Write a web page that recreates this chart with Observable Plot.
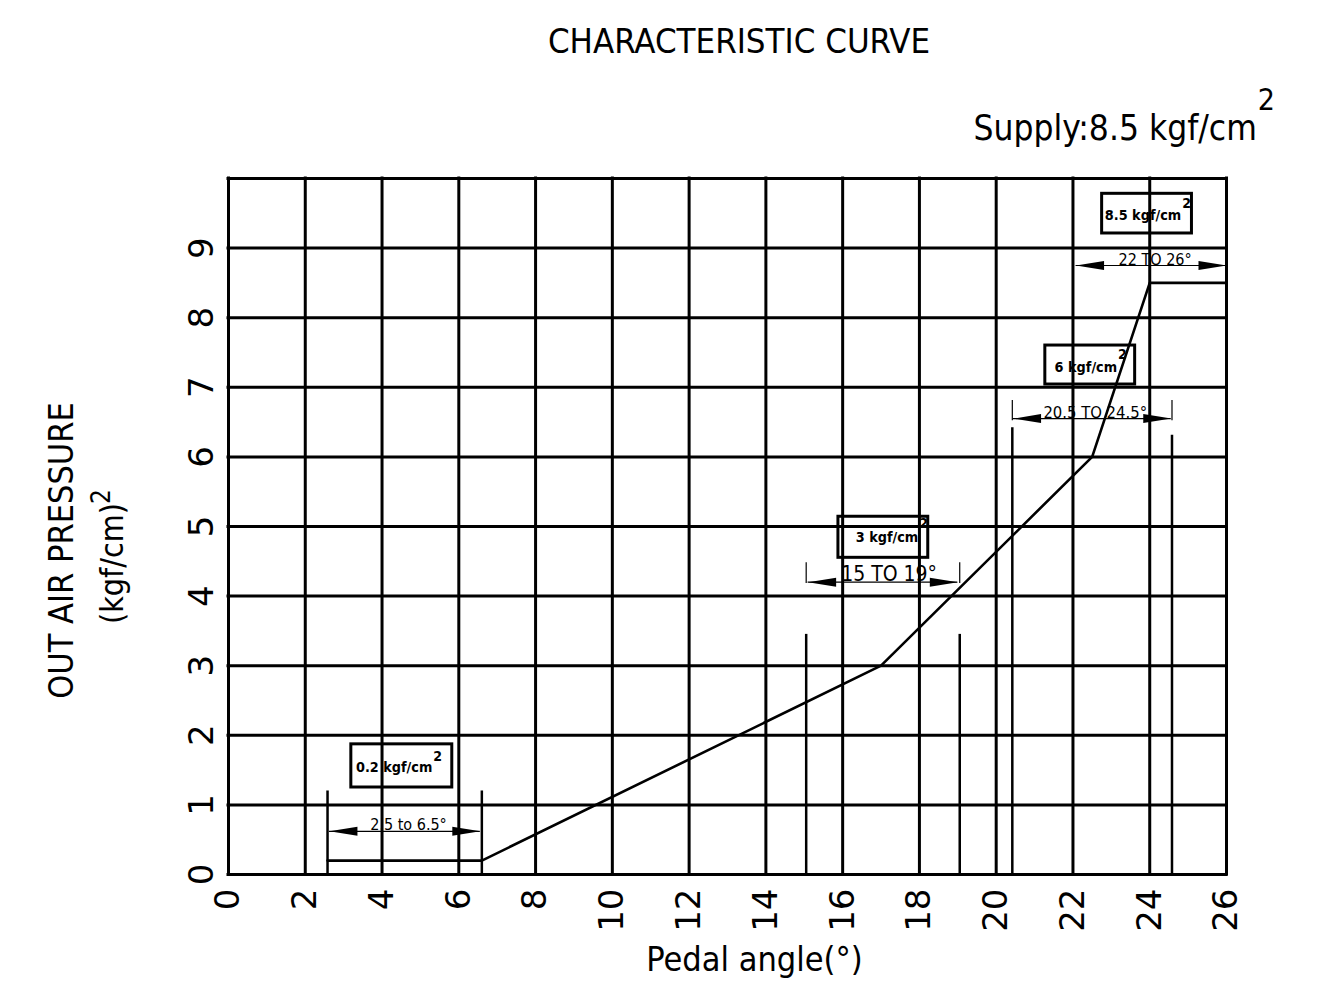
<!DOCTYPE html>
<html><head><meta charset="utf-8">
<script src="https://cdn.jsdelivr.net/npm/d3@7"></script>
<script src="https://cdn.jsdelivr.net/npm/@observablehq/plot@0.6"></script>
<style>
body{margin:0;background:#fff;width:1335px;height:988px;overflow:hidden;}
#header{position:relative;width:1335px;height:160px;font-family:"Liberation Sans Narrow","DejaVu Sans Condensed","Arial Narrow",sans-serif;color:#000;}
#title{position:absolute;left:339px;width:800px;top:23px;text-align:center;font-size:34.5px;line-height:36px;white-space:nowrap;}
#supply{position:absolute;right:60px;top:109px;font-size:35px;line-height:38px;white-space:nowrap;}
#supply span{font-size:30px;position:relative;top:-30px;margin-left:1px;}
#chart svg{display:block;}
</style></head>
<body>
<div id="header"><div id="title"></div><div id="supply"></div></div>
<div id="chart"></div>
<script>
// ---- text ----
const titleText = "CHARACTERISTIC CURVE";
const supplyText = "Supply:8.5 kgf/cm";
const supplySup = "2";
const xLabelText = "Pedal angle(°)";
const yLabelText = "OUT AIR PRESSURE";
const yUnitText = "(kgf/cm)";
const yUnitSup = "2";

// ---- ticks / grid ----
const xTicks = [0, 2, 4, 6, 8, 10, 12, 14, 16, 18, 20, 22, 24, 26];
const yTicks = [0, 1, 2, 3, 4, 5, 6, 7, 8, 9];
const yGrid = [0, 1, 2, 3, 4, 5, 6, 7, 8, 9, 10];

// ---- characteristic curve ----
const curveAngle = [2.58, 6.6, 17, 22.5, 24, 26];
const curvePressure = [0.2, 0.2, 3, 6, 8.5, 8.5];

// ---- dimension (tolerance) brackets ----
const dimText = ["2.5 to 6.5°", "15 TO 19°", "20.5 TO 24.5°", "22 TO 26°"];
const dimFrom = [2.63, 15.1, 20.44, 22.08];
const dimTo = [6.56, 19.0, 24.56, 26];
const dimLevel = [0.62, 4.2, 6.55, 8.75];
const dimTextAngle = [4.69, 17.21, 22.58, 24.14];

// extension lines (angle, top pressure)
const extAngle = [2.58, 6.6, 15.05, 19.05, 20.42, 24.58];
const extTop = [1.2, 1.2, 3.45, 3.45, 6.42, 6.31];
// short thin extension ticks (angle, low, high)
const tickAngle = [15.05, 19.05, 20.42, 24.58];
const tickLow = [4.18, 4.18, 6.52, 6.52];
const tickHigh = [4.48, 4.48, 6.81, 6.81];

// ---- pressure callout boxes ----
const boxText = ["0.2 kgf/cm", "3 kgf/cm", "6 kgf/cm", "8.5 kgf/cm"];
const boxSup = ["2", "2", "2", "2"];
const boxLeft = [3.2, 15.89, 21.28, 22.76];
const boxRight = [5.83, 18.23, 23.62, 25.1];
const boxBottom = [1.25, 4.55, 7.04, 9.21];
const boxTop = [1.87, 5.14, 7.6, 9.78];
const boxTextEnd = [5.31, 17.97, 23.15, 24.82];
const boxTextMid = [1.54, 4.84, 7.28, 9.47];
const boxSupMid = [1.7, 5.04, 7.47, 9.64];

// ---- header ----
document.getElementById("title").textContent = titleText;
const sup = document.getElementById("supply");
sup.textContent = supplyText;
const ss = document.createElement("span"); ss.textContent = supplySup; sup.appendChild(ss);

// ---- helpers ----
const narrow = "'Liberation Sans Narrow','DejaVu Sans Condensed','Arial Narrow',sans-serif";
const wide = "'DejaVu Sans','Liberation Sans',sans-serif";
const arrowLeft = {draw(ctx){ ctx.moveTo(0,0); ctx.lineTo(28,-4.5); ctx.lineTo(28,4.5); ctx.closePath(); }};
const arrowRight = {draw(ctx){ ctx.moveTo(0,0); ctx.lineTo(-28,-4.5); ctx.lineTo(-28,4.5); ctx.closePath(); }};
const curve = curveAngle.map((a, i) => ({angle: a, pressure: curvePressure[i]}));
const dimIdx = d3.range(dimText.length);
const extIdx = d3.range(extAngle.length);
const tickIdx = d3.range(tickAngle.length);
const boxIdx = d3.range(boxText.length);
const dimFont = [16, 21, 16.5, 16];
const dimWeight = ["bold", "normal", "bold", "normal"];

const chart = Plot.plot({
  width: 1335,
  height: 828,
  marginLeft: 228,
  marginRight: 109,
  marginTop: 18,
  marginBottom: 114,
  x: {domain: [0, 26], axis: null},
  y: {domain: [0, 10], axis: null},
  style: {fontFamily: narrow, background: "#fff", color: "#000"},
  marks: [
    // grid
    Plot.ruleX(xTicks, {x: d => d, stroke: "#000", strokeWidth: 3, strokeLinecap: "square"}),
    Plot.ruleY(yGrid, {y: d => d, stroke: "#000", strokeWidth: 3, strokeLinecap: "square"}),
    // extension lines
    Plot.ruleX(extIdx, {x: i => extAngle[i], y1: 0, y2: i => extTop[i], stroke: "#000", strokeWidth: 2.5}),
    Plot.ruleX(tickIdx, {x: i => tickAngle[i], y1: i => tickLow[i], y2: i => tickHigh[i], stroke: "#000", strokeWidth: 1.2}),
    // curve
    Plot.line(curve, {x: "angle", y: "pressure", stroke: "#000", strokeWidth: 2.6}),
    // dimension lines + arrowheads
    Plot.ruleY(dimIdx, {y: i => dimLevel[i], x1: i => dimFrom[i], x2: i => dimTo[i], stroke: "#000", strokeWidth: 1.2}),
    Plot.dot(dimIdx, {x: i => dimFrom[i], y: i => dimLevel[i], symbol: arrowLeft, fill: "#000", stroke: "none", r: 5}),
    Plot.dot(dimIdx, {x: i => dimTo[i], y: i => dimLevel[i], symbol: arrowRight, fill: "#000", stroke: "none", r: 5}),
    Plot.text(dimIdx, {x: i => dimTextAngle[i], y: i => dimLevel[i], text: i => dimText[i], lineAnchor: "bottom", dy: -1,
      fontSize: i => dimFont[i], fontWeight: i => dimWeight[i], fill: "#000"}),
    // callout boxes
    Plot.rect(boxIdx, {x1: i => boxLeft[i], x2: i => boxRight[i], y1: i => boxBottom[i], y2: i => boxTop[i], fill: "none", stroke: "#000", strokeWidth: 3}),
    Plot.text(boxIdx, {x: i => boxTextEnd[i], y: i => boxTextMid[i], text: i => boxText[i], textAnchor: "end", fontSize: 14.3, fontWeight: "bold", fill: "#000"}),
    Plot.text(boxIdx, {x: i => boxTextEnd[i], y: i => boxSupMid[i], text: i => boxSup[i], textAnchor: "start", dx: 1, fontSize: 14, fontWeight: "bold", fill: "#000"}),
    // tick labels
    Plot.text(xTicks, {x: d => d, text: d => String(d), frameAnchor: "bottom", dy: 14, rotate: -90, textAnchor: "end", lineAnchor: "middle", fontSize: 34, fontFamily: wide, fill: "#000"}),
    Plot.text(yTicks, {y: d => d, text: d => String(d), frameAnchor: "left", dx: -26, rotate: -90, textAnchor: "middle", lineAnchor: "middle", fontSize: 34, fontFamily: wide, fill: "#000"}),
    // axis labels
    Plot.text([xLabelText], {text: d => d, frameAnchor: "bottom", dx: 27, dy: 86, textAnchor: "middle", lineAnchor: "middle", fontSize: 34, fill: "#000"}),
    Plot.text([yLabelText], {text: d => d, frameAnchor: "left", dx: -166, dy: 24, rotate: -90, textAnchor: "middle", lineAnchor: "middle", fontSize: 34, fill: "#000"}),
    Plot.text([yUnitText], {text: d => d, frameAnchor: "left", dx: -116, dy: 37, rotate: -90, textAnchor: "middle", lineAnchor: "middle", fontSize: 32, fill: "#000"}),
    Plot.text([yUnitSup], {text: d => d, frameAnchor: "left", dx: -127, dy: -30, rotate: -90, textAnchor: "middle", lineAnchor: "middle", fontSize: 26, fill: "#000"})
  ]
});
document.getElementById("chart").appendChild(chart);
</script>
</body></html>
